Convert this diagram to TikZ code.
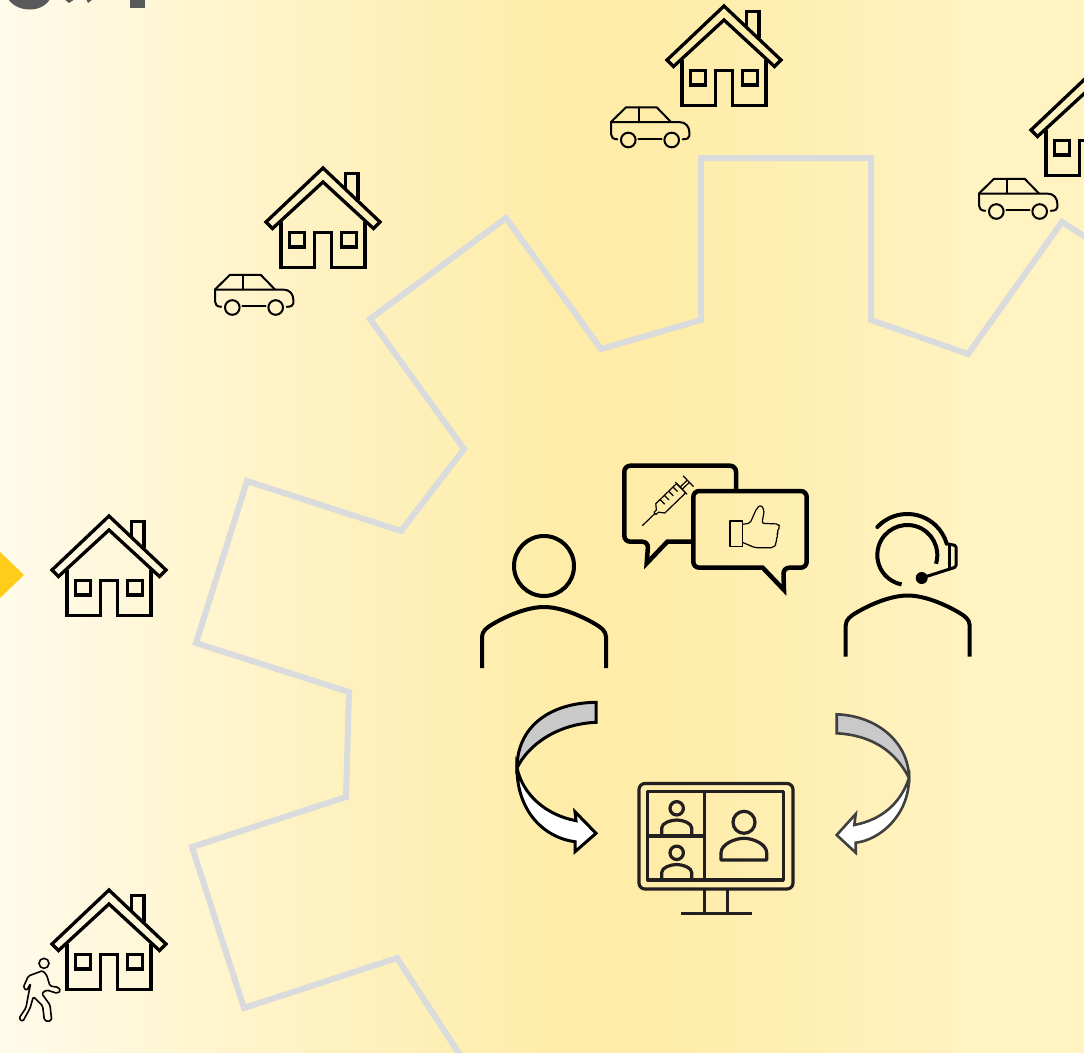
\documentclass[tikz,border=0pt]{standalone}
\usetikzlibrary{calc}
\definecolor{bgpale}{HTML}{FFFBEA}
\definecolor{bgone}{HTML}{FFF8DE}
\definecolor{bgtwo}{HTML}{FFF5CF}
\definecolor{bgthree}{HTML}{FEF0BA}
\definecolor{bgdeep}{HTML}{FEECA8}
\definecolor{bgright}{HTML}{FFF3C2}
\definecolor{geargrey}{HTML}{DADBDC}
\definecolor{titlegrey}{HTML}{58595B}
\definecolor{pointeryellow}{HTML}{FFCC1A}
\definecolor{screenink}{HTML}{231F20}
\definecolor{arrowgrey}{HTML}{C9C9C9}
\definecolor{arrowink}{HTML}{404040}
\pgfdeclarehorizontalshading{bgfade}{100bp}{color(0bp)=(bgpale);color(25bp)=(bgpale);color(29.6bp)=(bgone);color(34.2bp)=(bgtwo);color(43.5bp)=(bgthree);color(50.8bp)=(bgdeep);color(55.5bp)=(bgdeep);color(70bp)=(bgright);color(100bp)=(bgright)}
\tikzset{
  every pic/.style={yscale=-1},
  iconline/.style={line width=3.3pt,line join=miter},
  carline/.style={line width=2pt,line cap=round,line join=round},
  personline/.style={line width=4pt,line join=round},
  screenline/.style={line width=3.2pt,draw=screenink,line join=round},
  fineline/.style={line width=1.2pt,line join=round},
  bubbleline/.style={line width=4.5pt,line join=miter},
  housesym/.pic={
    \draw[iconline] (-57,56) -- (0,2) -- (57,56) -- (50.5,62.5) -- (0,16) -- (-50.5,62.5) -- cycle;
    \draw[iconline] (-42,56) -- (-42,101.5) -- (-8.7,101.5) -- (-8.7,66.3) -- (8.7,66.3) -- (8.7,101.5) -- (42,101.5) -- (42,56);
    \draw[iconline] (-33.3,66.3) rectangle (-18.3,81);
    \draw[iconline] (18.7,66.3) rectangle (33.7,81);
    \draw[iconline] (22.7,21.8) -- (22.7,7.3) -- (35,7.3) -- (35,33.6);
  },
  carsym/.pic={
    \draw[carline] (6.3,17.3) .. controls (2,17.3) and (0,15) .. (0,12) -- (0,0) -- (15,-14.7) -- (45.7,-14.7) -- (60,0);
    \draw[carline] (0,0) -- (68,0) .. controls (75,0) and (78.3,5) .. (78.3,10) -- (78.3,14) .. controls (78.3,16) and (76,17.3) .. (71.7,17.3);
    \draw[carline] (27.3,16.7) -- (50.7,16.7);
    \draw[carline] (28.3,-14.7) -- (28.3,0);
    \draw[carline] (17.3,18) circle (7.3);
    \draw[carline] (60.7,18) circle (7.3);
  },
  shouldersym/.pic={
    \draw[personline] (-62,33) -- (-62,2) .. controls (-62,-4) and (-57,-7.5) .. (-52,-10.5) .. controls (-36,-20) and (-16,-28) .. (0,-28) .. controls (16,-28) and (36,-20) .. (52,-10.5) .. controls (57,-7.5) and (62,-4) .. (62,2) -- (62,33);
  },
  smallviewer/.pic={
    \draw[screenline] (0,-11.7) circle (6.7);
    \draw[screenline] (-15,15) -- (-15,8) .. controls (-15,3) and (-6,0) .. (0,0) .. controls (6,0) and (15,3) .. (15,8) -- (15,15);
  }
}
\begin{document}
\begin{tikzpicture}[x=1pt,y=1pt,yscale=-1]
  \useasboundingbox (0,0) rectangle (1084,1052);
  \clip (0,0) rectangle (1084,1052);
  \shade[shading=bgfade] (0,0) rectangle (1084,1052);

  % gear outline
  \draw[geargrey,line width=6pt,line join=miter] (1090,240) -- (1062,222) -- (968,354) -- (871,320) -- (871,158) -- (701,158) -- (701,320) -- (601,349) -- (506,218) -- (370,319) -- (464,449) -- (401,531) -- (247,481) -- (196,643) -- (349,692) -- (346,797) -- (192,847) -- (244,1008) -- (397,958) -- (462,1058);

  % cut off heading and pointer
  \fill[titlegrey] (8,-1) .. controls (14,7) and (22,9.5) .. (30,9.5) .. controls (38,9.5) and (46,6) .. (50,-1) -- cycle;
  \fill[titlegrey] (64,-1) -- (69,3) -- (75,-1) -- cycle;
  \fill[titlegrey] (86,-1) -- (88,3) -- (93,-1) -- cycle;
  \fill[titlegrey] (130,-1) rectangle (145,8);
  \fill[pointeryellow] (-1,551) -- (24,575) -- (-1,599) -- cycle;

  % houses and cars
  \foreach \x/\y in {724/4,323/166,109/514,109/888,1088/74} {
      \pic at (\x,\y) {housesym};
    }
  \foreach \x/\y in {611/122,215/289.5,979/193.5} {
      \pic at (\x,\y) {carsym};
    }

  % walker
  \begin{scope}[shift={(0,880)},scale=1/3]
    \draw[line width=1.6pt] (132,250) circle (15);
    \draw[line width=1.6pt,line join=round,rounded corners=1.5pt] (85,288) -- (128,272) -- (140,285) -- (150,318) -- (175,322) -- (182,332) -- (172,340) -- (140,330) -- (125,340) -- (150,375) -- (155,420) -- (143,425) -- (133,420) -- (128,378) -- (100,350) -- (90,385) -- (68,425) -- (57,415) -- (78,383) -- (85,345) -- (92,310) -- (80,332) -- (70,322) -- cycle;
  \end{scope}

  % patient
  \draw[personline] (544,566) circle (30);
  \pic at (544,635) {shouldersym};

  % nurse with headset
  \draw[personline] (907.3,555) ++(17:30) arc[start angle=17,end angle=-259,radius=30];
  \draw[personline,line cap=round] (907.3,555) ++(-137:41) arc[start angle=-137,end angle=-16,radius=41];
  \draw[line width=3pt,line join=round,rounded corners=1.5pt] (948,544) -- (956,545.5) -- (956,567) -- (921.7,578);
  \draw[line width=3pt] (949,544) -- (949,570);
  \fill (921.7,578) circle (6);
  \pic at (907.7,623.5) {shouldersym};

  % speech bubbles
  \draw[bubbleline,rounded corners=6pt] (736,491) -- (736,465.7) -- (624.3,465.7) -- (624.3,541.7) -- (648.3,541.7) [sharp corners] -- (646.7,563.3) -- (667.3,541.7) -- (693,541.7);
  \draw[bubbleline,rounded corners=6pt] (750,491) -- (806.7,491) -- (806.7,567.7) -- (783.3,567.7) [sharp corners] -- (784,590) -- (762.7,567.7) [rounded corners=6pt] -- (693.3,567.7) -- (693.3,491) -- cycle;

  % syringe
  \begin{scope}[shift={(642.3,525.7)},rotate=-44]
    \draw[fineline] (0,0) -- (17.7,0);
    \draw[fineline] (17.7,-1.5) -- (21,-1.5) -- (25,-6.5) -- (54,-6.5) -- (54,6.5) -- (25,6.5) -- (21,1.5) -- (17.7,1.5) -- cycle;
    \foreach \t in {31,37,43,49} {
        \draw[fineline] (\t,-6.5) -- (\t,0);
      }
    \draw[fineline] (54,-8.5) -- (54,8.5);
    \draw[fineline] (54,-1.5) -- (64,-1.5) (54,1.5) -- (64,1.5);
    \draw[fineline] (64,-7.5) -- (64,7.5);
  \end{scope}

  % thumb
  \draw[fineline] (730,521) rectangle (742.3,546.7);
  \draw[fineline,rounded corners=2pt] (742.3,524.3) -- (750,523.3) -- (756.7,508.3) -- (760.7,505) -- (764.3,510) -- (762,523.3) -- (778.3,524) -- (780,526.7) -- (776.7,532.3) -- (778.3,535) -- (775.7,540) -- (776.7,543.3) -- (773.3,547.7) -- (755,547.7) -- (742.3,542.3);

  % monitor
  \draw[screenline,rounded corners=6pt] (639,783.5) rectangle (793,889);
  \draw[screenline] (647.7,791.7) rectangle (783.3,880);
  \draw[screenline] (704.3,791.7) -- (704.3,880);
  \draw[screenline] (647.7,836) -- (704.3,836);
  \pic at (676.7,820) {smallviewer};
  \pic at (676.7,864.5) {smallviewer};
  \draw[screenline] (744,822.3) circle (11);
  \draw[screenline] (721,860) -- (721,853) .. controls (721,844) and (735,838.3) .. (744,838.3) .. controls (753,838.3) and (766.7,844) .. (766.7,853) -- (766.7,860) -- cycle;
  \draw[screenline] (704.3,889) -- (704.3,913.3);
  \draw[screenline] (727.7,889) -- (727.7,913.3);
  \draw[screenline] (681,913.3) -- (751.7,913.3);

  % curved arrows
  \draw[line width=3pt,line join=miter,fill=white] (517,768) .. controls (517,812) and (545,838) .. (575,841.7) -- (575,851.7) -- (596,833.3) -- (575,811.7) -- (576,820.7) .. controls (546,815) and (523,795) .. (517,768) -- cycle;
  \draw[line width=3pt,line join=miter,fill=arrowgrey] (596,702.3) .. controls (548,703) and (517,728) .. (517,768) .. controls (528,745) and (557,724) .. (596,722.3) -- cycle;
  \draw[arrowink,line width=2.6pt,line join=miter,fill=white] (909,778) .. controls (909,815) and (880,840) .. (855.7,842.7) -- (855.7,852.7) -- (836.7,835) -- (855.7,814) -- (854.3,825) .. controls (880,820) and (900,805) .. (909,778) -- cycle;
  \draw[arrowink,line width=2.6pt,line join=miter,fill=arrowgrey] (836.7,714.3) .. controls (880,716) and (909,745) .. (909,778) .. controls (895,750) and (870,735) .. (836.7,733.3) -- cycle;
\end{tikzpicture}
\end{document}
